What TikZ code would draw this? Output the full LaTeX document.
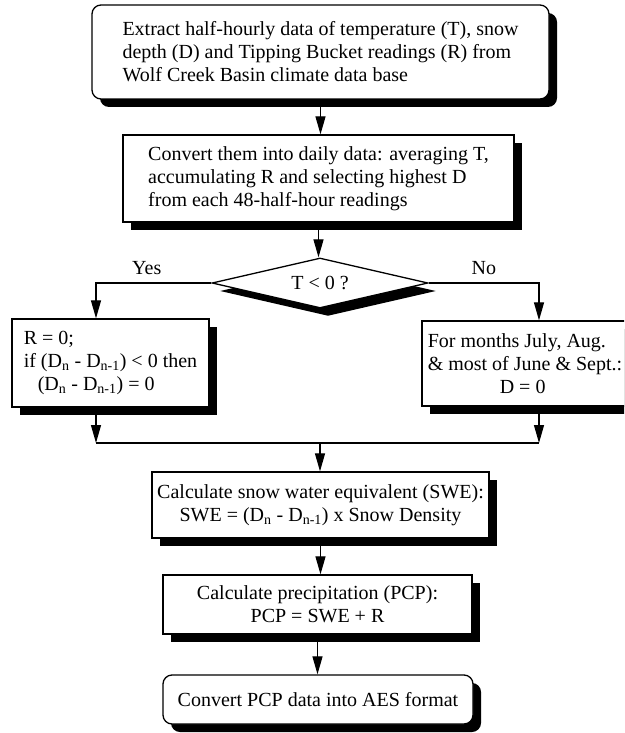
\documentclass[tikz,border=0pt]{standalone}
\usepackage{fontspec}
\setmainfont{Liberation Serif}
\usetikzlibrary{shapes.geometric,shadows,arrows.meta}
\tikzset{
  shd/.style={drop shadow={shadow xshift=8pt,shadow yshift=-8pt,fill=black,opacity=1}},
  box/.style={draw=black,line width=1.3pt,fill=white,shd,align=left,inner sep=0pt,
    font=\fontsize{20}{23}\selectfont},
  rbox/.style={box,rounded corners=9pt},
  dec/.style={draw=black,line width=1.3pt,fill=white,shd,shape=diamond,aspect=4.32,inner sep=0pt,
    minimum width=216pt,minimum height=50pt,font=\fontsize{20}{23}\selectfont},
  lbl/.style={font=\fontsize{20}{23}\selectfont,above=4pt},
  conn/.style={line width=1.2pt},
  arr/.style={conn,-{Triangle[length=18pt,width=10pt]}},
}
\begin{document}
\begin{tikzpicture}[x=1pt,y=1pt]
\useasboundingbox (0,0) rectangle (624,-733);
\clip (0,0) rectangle (624,-733);
\node[rbox,minimum width=457pt,minimum height=94pt] (b1) at (320.5,-52)
  {Extract half-hourly data of temperature (T), snow\\depth (D) and Tipping Bucket readings (R) from\\Wolf Creek Basin climate data base};
\node[box,minimum width=391pt,minimum height=87pt] (b2) at (318.5,-178.5)
  {Convert them into daily data: averaging T,\\accumulating R and selecting highest D\\from each 48-half-hour readings};
\node[dec] (dia) at (320,-283) {T {\char"3C} 0 ?};
\node[box,minimum width=197pt,minimum height=88pt] (b3) at (110.5,-363)
  {R = 0;\\if (D\textsubscript{n} - D\textsubscript{n-1}) {\char"3C} 0 then\\\hspace*{14pt}(D\textsubscript{n} - D\textsubscript{n-1}) = 0};
\node[box,minimum width=206pt,minimum height=85pt] (b4) at (525,-363.5)
  {For months July, Aug.\\\& most of June \& Sept.:\\\hspace*{72pt}D = 0};
\node[box,minimum width=337pt,minimum height=66pt,align=center] (b5) at (320.5,-505)
  {Calculate snow water equivalent (SWE):\\SWE = (D\textsubscript{n} - D\textsubscript{n-1}) x Snow Density};
\node[box,minimum width=309pt,minimum height=59pt,align=center] (b6) at (317.5,-604.5)
  {Calculate precipitation (PCP):\\PCP = SWE + R};
\node[rbox,minimum width=310pt,minimum height=49pt,align=center] (b7) at (318,-699.5)
  {Convert PCP data into AES format};
\coordinate (m) at (320,-443);
\coordinate (yl) at ([xshift=-14.5pt]b3.north);
\coordinate (nr) at ([xshift=14pt]b4.north);
\draw[arr] (b1.south) -- (b1.south |- b2.north);
\draw[arr] (b2.south) -- (b2.south |- dia.north);
\draw[arr] (dia.west) -| node[lbl,pos=0.28] {Yes} (yl);
\draw[arr] (dia.east) -| node[lbl,pos=0.25] {No} (nr);
\draw[arr] (yl |- b3.south) -- (yl |- m);
\draw[arr] (nr |- b4.south) -- (nr |- m);
\draw[conn] (yl |- m) -- (nr |- m);
\draw[arr] (m) -- (m |- b5.north);
\draw[arr] (b5.south) -- (b5.south |- b6.north);
\draw[arr] (b6.south) -- (b6.south |- b7.north);
\end{tikzpicture}
\end{document}
